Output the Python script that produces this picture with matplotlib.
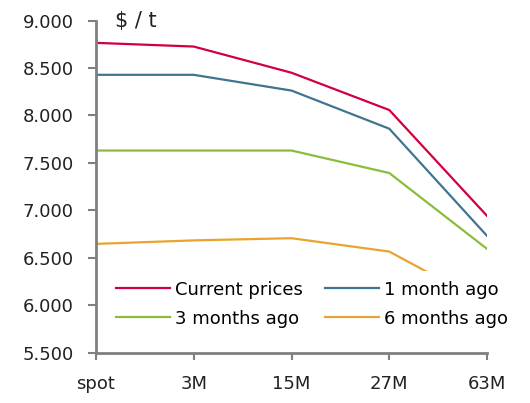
import matplotlib.pyplot as plt
from matplotlib.ticker import FuncFormatter

# Forward curve data ($/t)
tenors = ['spot', '3M', '15M', '27M', '63M']
current = [8765, 8726, 8450, 8057, 6941]
one_month = [8428, 8428, 8262, 7860, 6730]
three_months = [7630, 7630, 7630, 7393, 6593]
six_months = [6646, 6683, 6706, 6565, 6010]

series = [
    ('Current prices', current, '#d2003f'),
    ('1 month ago', one_month, '#3f7590'),
    ('3 months ago', three_months, '#8abd3c'),
    ('6 months ago', six_months, '#e8a42e'),
]

plt.rcParams['font.family'] = ['DejaVu Sans']

fig = plt.figure(figsize=(5.3, 4.03), dpi=100)
ax = fig.add_axes([0.181, 0.125, 0.738, 0.824])

x = range(len(tenors))
lines = {}
for label, vals, color in series:
    lines[label], = ax.plot(x, vals, color=color, lw=1.6, label=label, zorder=2)

ax.set_xlim(0, len(tenors) - 1)
ax.set_ylim(5500, 9000)
ax.set_yticks(range(5500, 9001, 500))
ax.yaxis.set_major_formatter(FuncFormatter(lambda v, p: f'{v:,.0f}'.replace(',', '.')))
ax.set_xticks(list(x))
ax.set_xticklabels(tenors)

for s in ['top', 'right']:
    ax.spines[s].set_visible(False)
for s in ['left', 'bottom']:
    ax.spines[s].set_color('#808080')
    ax.spines[s].set_linewidth(2)
ax.tick_params(axis='both', colors='#808080', width=1.5, labelsize=13, labelcolor='#222222')
ax.tick_params(axis='y', length=6, pad=10)
ax.tick_params(axis='x', length=5, pad=11)

ax.text(0.05, 1.0, '$ / t', transform=ax.transAxes, fontsize=15, va='center', ha='left', color='#222222')

# legend order so rows read: Current/1 month, 3 months/6 months
order = ['Current prices', '3 months ago', '1 month ago', '6 months ago']
leg = ax.legend([lines[k] for k in order], order, ncol=2, loc='lower left',
                bbox_to_anchor=(0.025, 0.045), frameon=True,
                fontsize=13, handlelength=3.0, columnspacing=1.2, handletextpad=0.3,
                labelspacing=0.62, borderpad=0.55, borderaxespad=0)
leg.get_frame().set_edgecolor('none')
leg.get_frame().set_facecolor('white')
leg.get_frame().set_alpha(1)
leg.get_frame().set_boxstyle('square', pad=0)
leg.set_zorder(5)

plt.savefig('out.png', dpi=100)
